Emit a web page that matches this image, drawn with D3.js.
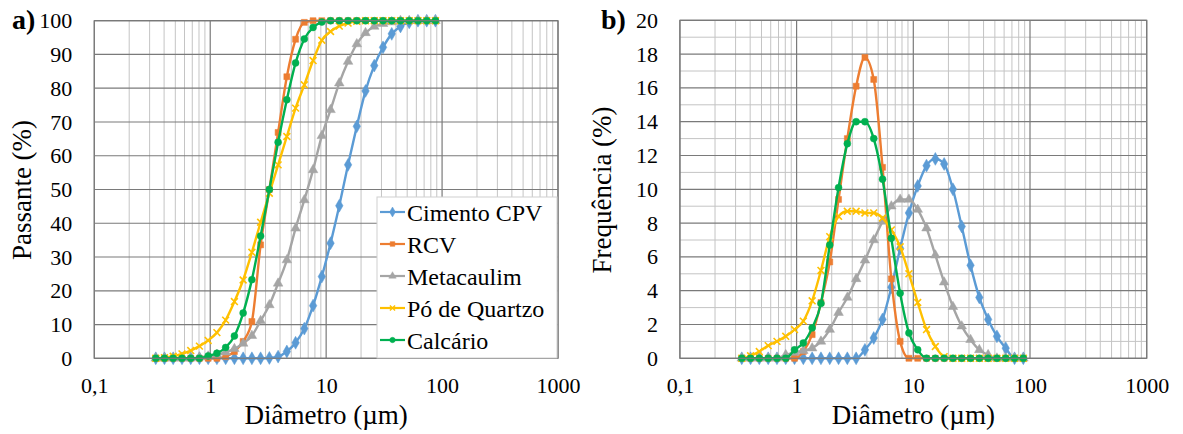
<!DOCTYPE html>
<html>
<head>
<meta charset="utf-8">
<script src="https://cdn.jsdelivr.net/npm/d3@7"></script>
<style>
body { margin: 0; background: #fff; }
svg text { font-family: "Liberation Serif", "Times New Roman", Tinos, "DejaVu Serif", serif !important; fill: #000; }
</style>
</head>
<body>
<svg id="vis"></svg>
<script>
const width = 1183;
const height = 434;

// diameters (um), same bins for every series
const diam = [0.339, 0.403, 0.479, 0.571, 0.679, 0.807, 0.960, 1.142, 1.359, 1.617, 1.923,
  2.288, 2.721, 3.237, 3.851, 4.581, 5.450, 6.483, 7.713, 9.175, 10.91, 12.98, 15.45,
  18.38, 21.86, 26.00, 30.94, 36.80, 43.78, 52.08, 61.94, 73.71, 87.69];

// a) passante acumulado (%)
const cimentoPass = [0, 0, 0, 0, 0, 0, 0, 0, 0, 0, 0, 0, 0, 0.1, 0.5, 2.0, 4.6, 8.8, 15.6, 24.2,
  34.1, 45.2, 57.3, 68.7, 79.2, 86.7, 92.1, 96.1, 98.3, 99.5, 100, 100, 100];
const rcvPass = [0, 0, 0, 0, 0, 0, 0, 0, 0.5, 2.0, 5.0, 10.9, 33.6, 50.0, 66.9, 83.4, 94.5, 99.5,
  100, 100, 100, 100, 100, 100, 100, 100, 100, 100, 100, 100, 100, 100, 100];
const metaPass = [0, 0, 0, 0, 0, 0.3, 0.6, 1.1, 1.8, 2.8, 4.4, 6.7, 11.1, 15.8, 22.2, 29.1, 38.5,
  46.9, 55.8, 65.9, 73.6, 81.5, 87.9, 93.1, 96.4, 98.3, 99.1, 99.6, 100, 100, 100, 100, 100];
const quartzoPass = [0, 0.2, 0.6, 1.3, 2.3, 3.6, 5.3, 7.6, 11.3, 16.8, 23.2, 31.4, 40.3, 48.9, 57.3,
  65.7, 74.1, 81.0, 88.2, 94.2, 96.8, 98.4, 99.3, 99.8, 100, 100, 100, 100, 100, 100, 100, 100, 100];
const calcarioPass = [0, 0, 0, 0, 0, 0, 0.7, 1.5, 3.2, 6.6, 13.4, 23.3, 36.2, 50.0, 64.0, 76.6, 87.5,
  94.6, 98.0, 99.6, 100, 100, 100, 100, 100, 100, 100, 100, 100, 100, 100, 100, 100];

// b) frequencia (%)
const cimentoFreq = [0, 0, 0, 0, 0, 0, 0, 0, 0, 0, 0, 0, 0, 0, 0.5, 1.2, 2.3, 4.2, 6.5, 8.6, 10.2,
  11.4, 11.8, 11.5, 10.0, 7.8, 5.5, 3.6, 2.3, 1.3, 0.6, 0, 0];
const rcvFreq = [0, 0, 0, 0, 0, 0, 0, 0.4, 1.4, 3.3, 5.7, 9.4, 13.0, 16.1, 17.8, 16.5, 11.3, 4.7,
  1.0, 0, 0, 0, 0, 0, 0, 0, 0, 0, 0, 0, 0, 0, 0];
const metaFreq = [0, 0, 0, 0, 0, 0.2, 0.35, 0.45, 0.6, 1.0, 1.7, 2.7, 3.6, 4.7, 5.8, 7.0, 8.1, 9.0,
  9.4, 9.4, 8.8, 7.7, 6.1, 4.5, 3.05, 1.9, 1.1, 0.5, 0.2, 0, 0, 0, 0];
const quartzoFreq = [0, 0.15, 0.4, 0.75, 1.0, 1.3, 1.7, 2.2, 3.4, 5.2, 7.2, 8.4, 8.7, 8.7, 8.6, 8.6,
  8.3, 7.6, 6.6, 5.0, 3.3, 1.7, 0.7, 0.1, 0, 0, 0, 0, 0, 0, 0, 0, 0];
const calcarioFreq = [0, 0, 0, 0, 0, 0, 0.5, 0.9, 1.8, 3.25, 6.7, 10.1, 12.7, 14.0, 14.0, 13.0, 10.6,
  7.1, 3.85, 1.5, 0.5, 0, 0, 0, 0, 0, 0, 0, 0, 0, 0, 0, 0];

const names = ["Cimento CPV", "RCV", "Metacaulim", "Pó de Quartzo", "Calcário"];
const colors = ["#5B9BD5", "#ED7D31", "#A5A5A5", "#FFC000", "#00B050"];
const symbols = [d3.symbolDiamond, d3.symbolSquare, d3.symbolTriangle, d3.symbolTimes, d3.symbolCircle];
const symSizes = [48, 36, 40, 32, 38];
const passData = [cimentoPass, rcvPass, metaPass, quartzoPass, calcarioPass];
const freqData = [cimentoFreq, rcvFreq, metaFreq, quartzoFreq, calcarioFreq];

const xTicks = [0.1, 1, 10, 100, 1000];
const xTickLabels = ["0,1", "1", "10", "100", "1000"];

const svg = d3.select("svg#vis").attr("width", width).attr("height", height);

const minorX = [];
[0.1, 1, 10, 100].forEach(d => { for (let k = 2; k <= 9; k++) minorX.push(d * k); });

function drawPanel(opt) {
  const x = d3.scaleLog().domain([0.1, 1000]).range([opt.left, opt.right]);
  const y = d3.scaleLinear().domain([0, opt.ymax]).range([opt.bottom, opt.top]);
  const g = svg.append("g");

  // minor grid
  g.selectAll(".vminor").data(minorX).enter().append("line")
    .attr("x1", d => x(d)).attr("x2", d => x(d))
    .attr("y1", opt.top).attr("y2", opt.bottom)
    .style("stroke", "#c4c4c4").style("stroke-width", 1);
  if (opt.minorY) {
    g.selectAll(".hminor").data(opt.minorY).enter().append("line")
      .attr("x1", opt.left).attr("x2", opt.right)
      .attr("y1", d => y(d)).attr("y2", d => y(d))
      .style("stroke", "#c4c4c4").style("stroke-width", 1);
  }
  // major grid
  g.selectAll(".vmajor").data(xTicks).enter().append("line")
    .attr("x1", d => x(d)).attr("x2", d => x(d))
    .attr("y1", opt.top).attr("y2", opt.bottom)
    .style("stroke", "#7a7a7a").style("stroke-width", 1.2);
  g.selectAll(".hmajor").data(opt.yTicks).enter().append("line")
    .attr("x1", opt.left).attr("x2", opt.right)
    .attr("y1", d => y(d)).attr("y2", d => y(d))
    .style("stroke", "#7a7a7a").style("stroke-width", 1.2);

  // y tick labels
  g.append("g")
    .attr("transform", "translate(" + (opt.left - 22) + ",0)")
    .call(d3.axisLeft(y).tickValues(opt.yTicks).tickSize(0).tickPadding(0))
    .call(a => a.select(".domain").remove())
    .call(a => a.attr("font-family", null).attr("font-size", null))
    .selectAll("text").style("font-size", "22px");

  // x tick labels
  g.append("g")
    .attr("transform", "translate(0," + (opt.bottom + 19) + ")")
    .call(d3.axisBottom(x).tickValues(xTicks).tickFormat((d, i) => xTickLabels[i]).tickSize(0).tickPadding(0))
    .call(a => a.select(".domain").remove())
    .call(a => a.attr("font-family", null).attr("font-size", null))
    .selectAll("text").style("font-size", "22px");

  // titles
  g.append("text")
    .attr("x", (opt.left + opt.right) / 2).attr("y", 424)
    .attr("text-anchor", "middle").style("font-size", "27px")
    .text("Diâmetro (µm)");
  g.append("text")
    .attr("transform", "translate(" + opt.ytitleX + ",190) rotate(-90)")
    .attr("text-anchor", "middle").style("font-size", "27px")
    .text(opt.ytitle);
  g.append("text")
    .attr("x", opt.tagX).attr("y", 29)
    .style("font-size", "28px").style("font-weight", "bold")
    .text(opt.tag);

  // series
  const line = d3.line()
    .x((d, i) => x(diam[i]))
    .y(d => y(d))
    .curve(d3.curveMonotoneX);

  opt.data.forEach((vals, s) => {
    const sg = g.append("g");
    sg.append("path")
      .attr("d", line(vals))
      .style("fill", "none")
      .style("stroke", colors[s])
      .style("stroke-width", 2.4);
    const stroked = symbols[s] === d3.symbolTimes;
    sg.selectAll("path.mk").data(vals).enter().append("path")
      .attr("class", "mk")
      .attr("transform", (d, i) => "translate(" + x(diam[i]) + "," + y(d) + ")")
      .attr("d", d3.symbol().type(symbols[s]).size(symSizes[s]))
      .style("fill", stroked ? "none" : colors[s])
      .style("stroke", colors[s])
      .style("stroke-width", stroked ? 1.6 : 0.5);
  });

  // plot border
  g.append("rect")
    .attr("x", opt.left).attr("y", opt.top)
    .attr("width", opt.right - opt.left).attr("height", opt.bottom - opt.top)
    .style("fill", "none").style("stroke", "#7a7a7a").style("stroke-width", 1.2);

  return { x, y, g };
}

drawPanel({
  left: 94.3, right: 558, top: 20.7, bottom: 358.3, ymax: 100,
  yTicks: d3.range(0, 101, 10), minorY: null,
  data: passData, ytitle: "Passante (%)", ytitleX: 31, tag: "a)", tagX: 12
});

drawPanel({
  left: 679.9, right: 1146.7, top: 20.3, bottom: 358.3, ymax: 20,
  yTicks: d3.range(0, 21, 2), minorY: d3.range(1, 20, 2),
  data: freqData, ytitle: "Frequência (%)", ytitleX: 611, tag: "b)", tagX: 601
});

// legend
const legend = svg.append("g");
legend.append("rect")
  .attr("x", 377).attr("y", 197).attr("width", 180).attr("height", 161)
  .style("fill", "#fff").style("stroke", "#d0d0d0").style("stroke-width", 1);

legend.selectAll("g.item").data(names).enter().append("g")
  .attr("class", "item")
  .attr("transform", (d, i) => "translate(380," + (212 + i * 32) + ")")
  .each(function(d, i) {
    const it = d3.select(this);
    it.append("line").attr("x1", 0).attr("x2", 25).attr("y1", 0).attr("y2", 0)
      .style("stroke", colors[i]).style("stroke-width", 2.2);
    const stroked = symbols[i] === d3.symbolTimes;
    it.append("path")
      .attr("transform", "translate(12.5,0)")
      .attr("d", d3.symbol().type(symbols[i]).size(symSizes[i] * 0.6))
      .style("fill", stroked ? "none" : colors[i])
      .style("stroke", colors[i]).style("stroke-width", stroked ? 1.4 : 0.5);
    it.append("text").attr("x", 27).attr("y", 8.5)
      .style("font-size", "24px").text(d);
  });
</script>
</body>
</html>
